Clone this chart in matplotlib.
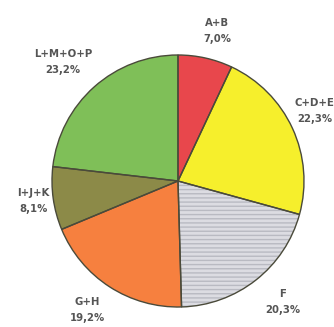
import matplotlib
matplotlib.use("Agg")
import matplotlib.pyplot as plt
import numpy as np

# Sector shares (%)
labels = ["A+B", "C+D+E", "F", "G+H", "I+J+K", "L+M+O+P"]
values = [7.0, 22.3, 20.3, 19.2, 8.1, 23.2]
pct_text = ["7,0%", "22,3%", "20,3%", "19,2%", "8,1%", "23,2%"]
colors = ["#e8474c", "#f6ef2c", "#dcdce2", "#f6803f", "#8c8a48", "#7fbf58"]
# label placement: distance from centre and angle tweak (deg)
label_dist = [1.23, 1.22, 1.27, 1.25, 1.16, 1.31]
label_rot = [-2.0, 2.4, 3.0, -2.0, 0.0, 2.7]

plt.rcParams["hatch.linewidth"] = 1.0

fig = plt.figure(figsize=(3.34, 3.27), dpi=100)
R = 126
cx, cy = 178, 181
ax = fig.add_axes([(cx - R) / 334, (327 - cy - R) / 327, 2 * R / 334, 2 * R / 327])

# fill + hatch layer
wedges, _ = ax.pie(values, colors=colors, startangle=90, counterclock=False,
                   wedgeprops=dict(linewidth=0, edgecolor="#b9bac2"))
wedges[2].set_hatch("----")

# outline layer
ax.pie(values, colors=["none"] * len(values), startangle=90, counterclock=False,
       wedgeprops=dict(linewidth=1.0, edgecolor="#4a4a3a"))

ax.set_xlim(-1, 1)
ax.set_ylim(-1, 1)
ax.set_aspect("equal")
ax.axis("off")

start = 90.0
for lab, v, pt, d, rot in zip(labels, values, pct_text, label_dist, label_rot):
    mid = np.deg2rad(start - v * 3.6 / 2 + rot)
    start -= v * 3.6
    x, y = d * np.cos(mid), d * np.sin(mid)
    ax.text(x, y, lab + "\n" + pt, ha="center", va="center", fontsize=7.3,
            color="#555555", fontweight="bold", linespacing=1.75, clip_on=False)

fig.savefig("out.png", dpi=100, facecolor="white")
